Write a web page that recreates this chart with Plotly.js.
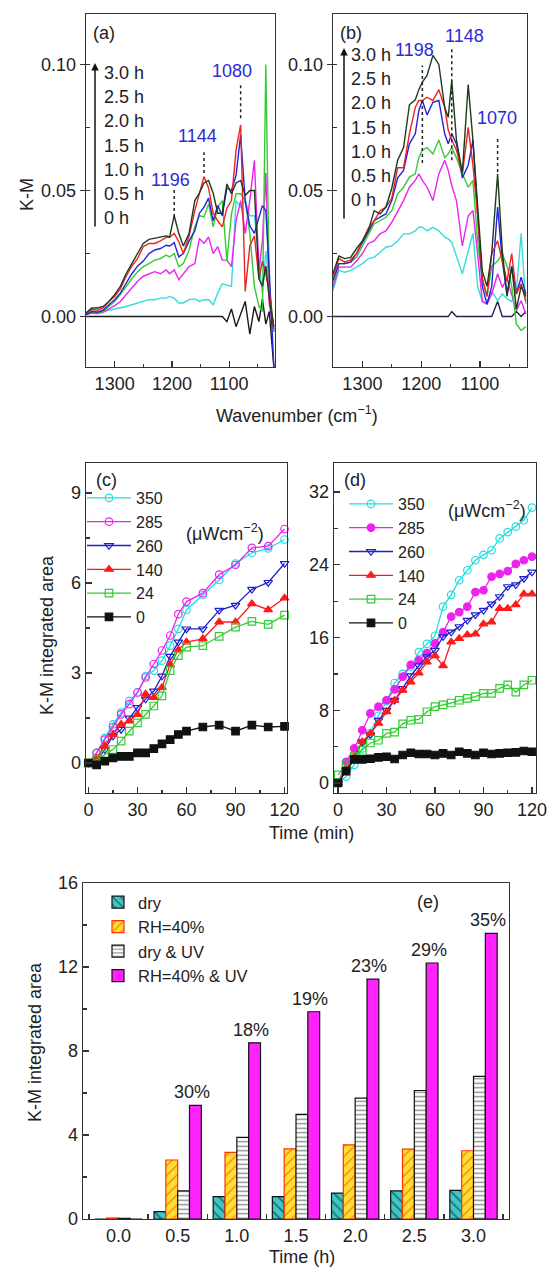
<!DOCTYPE html>
<html><head><meta charset="utf-8">
<script src="https://cdn.plot.ly/plotly-3.0.1.min.js"></script>
<style>html,body{margin:0;padding:0;background:#fff;}#chart{width:547px;height:1270px;}</style>
</head><body><div id="chart"></div>
<script>
// ---------- (a) spectra ----------
const wavenumA = [1350,1340,1330,1320,1310,1300,1290,1280,1270,1260,1250,1240,1230,1220,1210,1204,1196,1188,1180,1170,1160,1152,1144,1136,1128,1120,1112,1104,1096,1088,1080,1072,1064,1056,1048,1042,1036,1030,1022];
const a_0h  = [0,0,0,0,0,0,0,0,0,0,0,0,0,0,0,0,0,0,0,0,0,0,0,0,0,0,0,-0.0020,0.0030,-0.0040,0.0010,0.0060,-0.0070,0.0040,-0.0020,0.0070,-0.0030,0.0020,-0.0200];
const a_05h = [0.0008,0.0020,0.0017,0.0020,0.0025,0.0030,0.0034,0.0040,0.0047,0.0054,0.0060,0.0067,0.0067,0.0073,0.0073,0.0080,0.0073,0.0054,0.0054,0.0067,0.0070,0.0060,0.0067,0.0067,0.0047,0.0093,0.0130,0.0126,0.0120,0.0460,0.0434,0.0460,0.0400,0.0400,0.0220,0.0090,0.0260,0.0130,-0.0060];
const a_10h = [0.0008,0.0014,0.0012,0.0017,0.0030,0.0043,0.0060,0.0087,0.0113,0.0140,0.0160,0.0170,0.0178,0.0170,0.0185,0.0170,0.0185,0.0146,0.0170,0.0198,0.0210,0.0310,0.0290,0.0316,0.0250,0.0277,0.0224,0.0224,0.0198,0.0380,0.0460,0.0330,0.0460,0.0620,0.0180,0.0300,0.0570,0.0050,-0.0060];
const a_15h = [0.0008,0.0017,0.0014,0.0020,0.0040,0.0060,0.0087,0.0120,0.0150,0.0178,0.0198,0.0210,0.0224,0.0230,0.0244,0.0237,0.0250,0.0198,0.0210,0.0264,0.0356,0.0400,0.0395,0.0447,0.0356,0.0434,0.0460,0.0220,0.0408,0.0487,0.0487,0.0460,0.0330,0.0120,0.0040,0.0020,0.1000,0.0120,-0.0060];
const a_20h = [0.0008,0.0020,0.0017,0.0025,0.0047,0.0067,0.0093,0.0130,0.0170,0.0200,0.0220,0.0250,0.0264,0.0270,0.0283,0.0280,0.0293,0.0237,0.0250,0.0300,0.0340,0.0410,0.0434,0.0470,0.0380,0.0440,0.0400,0.0510,0.0500,0.0560,0.0720,0.0460,0.0360,0.0330,0.0390,0.0440,0.0420,0.0180,-0.0200];
const a_25h = [0.0014,0.0028,0.0025,0.0034,0.0060,0.0080,0.0110,0.0160,0.0200,0.0230,0.0277,0.0290,0.0290,0.0300,0.0314,0.0314,0.0330,0.0297,0.0250,0.0320,0.0420,0.0487,0.0555,0.0510,0.0410,0.0380,0.0356,0.0430,0.0460,0.0660,0.0760,0.0100,0.0280,0.0320,0.0150,0.0220,0.0170,0.0100,-0.0050];
const a_30h = [0.0014,0.0034,0.0034,0.0040,0.0060,0.0087,0.0120,0.0170,0.0210,0.0250,0.0290,0.0306,0.0310,0.0314,0.0320,0.0316,0.0400,0.0330,0.0280,0.0330,0.0460,0.0490,0.0530,0.0540,0.0490,0.0410,0.0410,0.0526,0.0487,0.0530,0.0540,0.0480,0.0500,0.0500,0.0150,0.0120,0.0200,0.0070,-0.0040];

// ---------- (b) spectra ----------
const wavenumB = [1350,1340,1330,1320,1310,1300,1290,1280,1270,1260,1250,1240,1230,1220,1210,1204,1198,1190,1180,1170,1160,1154,1148,1140,1130,1120,1112,1104,1096,1088,1080,1070,1062,1054,1046,1038,1030,1022];
const b_0h  = [0,0,0,0,0,0,0,0,0,0,0,0,0,0,0,0,0,0,0,0,0,0,0.0020,0,0,0,0,0,0,0,0,0.0060,0,0,0,0.0020,0,0.0020];
const b_05h = [0.0103,0.0183,0.0176,0.0183,0.0196,0.0210,0.0230,0.0235,0.0255,0.0275,0.0280,0.0300,0.0328,0.0328,0.0340,0.0354,0.0354,0.0340,0.0354,0.0340,0.0315,0.0308,0.0295,0.0240,0.0170,0.0260,0.0330,0.0120,0.0060,0.0050,0.0100,0.0063,0.0090,0.0070,0.0060,0.0100,0.0330,0.0050];
const b_10h = [0.0116,0.0196,0.0196,0.0196,0.0220,0.0250,0.0290,0.0300,0.0328,0.0340,0.0374,0.0420,0.0460,0.0513,0.0540,0.0566,0.0540,0.0513,0.0460,0.0566,0.0620,0.0580,0.0520,0.0460,0.0280,0.0400,0.0420,0.0250,0.0060,0.0050,0.0090,0.0170,0.0116,0.0150,0.0090,0.0024,0.0063,0.0010];
const b_15h = [0.0130,0.0210,0.0210,0.0216,0.0235,0.0280,0.0328,0.0368,0.0380,0.0394,0.0420,0.0487,0.0513,0.0553,0.0566,0.0630,0.0660,0.0670,0.0645,0.0700,0.0630,0.0645,0.0670,0.0630,0.0566,0.0513,0.0540,0.0300,0.0150,0.0080,0.0200,0.0220,0.0250,0.0200,0.0120,-0.0030,-0.0055,-0.0040];
const b_20h = [0.0143,0.0210,0.0210,0.0216,0.0250,0.0295,0.0340,0.0380,0.0394,0.0407,0.0460,0.0550,0.0580,0.0685,0.0725,0.0817,0.0857,0.0800,0.0850,0.0857,0.0725,0.0685,0.0725,0.0685,0.0550,0.0600,0.0700,0.0400,0.0120,0.0050,0.0120,0.0434,0.0220,0.0090,0.0196,0.0090,0.0156,0.0090];
const b_25h = [0.0156,0.0230,0.0216,0.0225,0.0250,0.0300,0.0350,0.0380,0.0420,0.0434,0.0470,0.0590,0.0590,0.0725,0.0830,0.0857,0.0857,0.0870,0.0857,0.0900,0.0830,0.0740,0.0700,0.0660,0.0566,0.0750,0.0600,0.0400,0.0150,0.0080,0.0250,0.0300,0.0220,0.0140,0.0250,0.0090,0.0130,0.0060];
const b_30h = [0.0170,0.0240,0.0230,0.0235,0.0270,0.0300,0.0340,0.0420,0.0407,0.0434,0.0510,0.0620,0.0670,0.0840,0.0860,0.0900,0.0930,0.0956,0.1036,0.1000,0.0830,0.0790,0.0936,0.0700,0.0570,0.0920,0.0700,0.0450,0.0180,0.0120,0.0250,0.0566,0.0260,0.0080,0.0200,0.0030,0.0120,0.0080];

const hourLabels = ['3.0 h','2.5 h','2.0 h','1.5 h','1.0 h','0.5 h','0 h'];
const peakA = [1196, 1144, 1080];
const peakTopA = [0.0514, 0.0652, 0.0917];
const peakBotA = [0.0395, 0.0569, 0.0787];
const peakLabelXA = [1203, 1155, 1095];
const peakLabelYA = [0.0542, 0.0715, 0.0972];
const peakB = [1198, 1148, 1070];
const peakTopB = [0.0996, 0.1067, 0.0711];
const peakBotB = [0.0609, 0.0620, 0.0573];
const peakLabelXB = [1212, 1127, 1071];
const peakLabelYB = [0.1059, 0.1111, 0.0787];

// ---------- (c) ----------
const timeC = [0,5,10,15,20,25,30,35,40,45,50,55,60,70,80,90,100,110,120];
const c350 = [0,0.34,0.84,1.29,1.68,2.07,2.35,2.9,3.08,3.41,3.91,4.47,5.1,5.6,6.1,6.65,7.0,7.15,7.45];
const c285 = [0,0.34,0.78,1.2,1.62,1.96,2.35,2.85,3.3,3.75,4.25,4.96,5.38,5.66,6.28,6.6,7.17,7.23,7.8];
const c260 = [0,0.06,0.45,0.9,1.12,1.5,1.85,2.13,2.4,2.9,3.56,4.03,4.47,4.47,5.09,5.26,5.79,6.02,6.65];
const c140 = [0,0.17,0.56,0.95,1.29,1.4,1.62,2.3,2.18,2.52,3.28,3.77,4.03,4.14,4.7,4.7,5.31,5.11,5.5];
const c24  = [0,0.11,0.28,0.45,0.73,1.06,1.34,1.62,1.9,2.24,3.08,3.58,3.86,3.91,4.22,4.53,4.72,4.62,4.93];
const c0   = [0,-0.06,0.06,0.17,0.22,0.22,0.34,0.34,0.48,0.64,0.78,0.95,1.06,1.2,1.26,1.06,1.26,1.2,1.22];

// ---------- (d) ----------
const timeD = [0,5,10,15,20,25,30,35,40,45,50,55,60,65,70,75,80,85,90,95,100,105,110,115,120];
const d350 = [0,0.7,2.0,3.8,5.5,7.4,9.0,11.0,12.0,12.8,14.4,15.3,16.2,19.4,20.7,22.3,23.4,24.5,25.1,25.6,26.9,27.6,28.2,28.9,30.3];
const d285 = [0,2.34,3.8,5.8,7.65,8.4,9.1,10.3,11.7,13.0,13.5,14.3,15.35,16.6,18.3,18.8,19.4,21.0,21.2,22.7,23.0,23.3,24.1,24.5,24.9];
const d260 = [0,1.43,2.7,4.54,5.3,6.9,8.0,9.1,10.4,11.8,12.9,13.9,14.6,16.1,16.6,17.2,17.9,18.5,19.0,19.7,20.5,21.6,21.8,22.5,23.2];
const d140 = [0,1.43,2.9,4.54,5.46,6.56,7.84,9.1,10.2,11.1,12.1,13.3,14.0,12.9,15.5,15.9,16.3,16.4,17.5,17.7,19.2,19.2,19.6,20.8,20.8];
const d24  = [0.9,2.0,2.9,3.6,4.4,4.7,5.46,5.6,6.5,6.9,7.0,7.84,8.4,8.6,8.8,9.1,9.3,9.5,9.85,9.85,10.4,10.8,10.0,10.8,11.3];
const d0   = [0,1.3,2.6,2.6,2.67,2.82,2.89,2.64,3.08,3.33,3.19,3.19,3.08,3.26,3.08,3.44,3.26,3.08,3.33,3.19,3.26,3.33,3.37,3.52,3.44];
const intensityNames = ['350','285','260','140','24','0'];

// ---------- (e) ----------
const timeE = [0, 0.5, 1.0, 1.5, 2.0, 2.5, 3.0];
const eDry    = [0, 0.35, 1.07, 1.07, 1.23, 1.34, 1.36];
const eRH     = [0.05, 2.81, 3.17, 3.34, 3.53, 3.33, 3.25];
const eDryUV  = [0.03, 1.34, 3.89, 4.98, 5.76, 6.12, 6.79];
const eRHUV   = [0, 5.41, 8.39, 9.87, 11.42, 12.19, 13.6];
const ePct    = ['', '30%', '18%', '19%', '23%', '29%', '35%'];
const eNames  = ['dry', 'RH=40%', 'dry &amp; UV', 'RH=40% &amp; UV'];

// ---------- layout helpers ----------
const W = 547, H = 1270;
const FONT = 'Liberation Sans, Arial, Helvetica, sans-serif';
const px = p => p / W;
const py = p => 1 - p / H;
const INK = '#222';

function axis(domain, range, o) {
  const base = {
    domain: domain, range: range, autorange: false,
    showline: true, mirror: true, linecolor: '#333', linewidth: 1.4,
    showgrid: false, zeroline: false,
    ticks: 'inside', ticklen: 6, tickwidth: 1.3, tickcolor: '#333',
    tickfont: {family: FONT, size: 18, color: INK}
  };
  const m = Object.assign({ticks: 'inside', ticklen: 3.5, tickwidth: 1.2, tickcolor: '#333'}, o.minor || {});
  const r = Object.assign(base, o);
  r.minor = m;
  return r;
}

const specColors = ['#1a1a1a', '#33dddd', '#ee22ee', '#33cc33', '#2323dd', '#ee2222', '#1d3b1d'];
const specA = [a_0h, a_05h, a_10h, a_15h, a_20h, a_25h, a_30h];
const specB = [b_0h, b_05h, b_10h, b_15h, b_20h, b_25h, b_30h];
const specNames = ['0 h','0.5 h','1.0 h','1.5 h','2.0 h','2.5 h','3.0 h'];

const traces = [];
specA.forEach((ys, i) => traces.push({
  type: 'scatter', mode: 'lines', x: wavenumA, y: ys, xaxis: 'x', yaxis: 'y',
  name: specNames[i], showlegend: false, line: {color: specColors[i], width: 1.4}
}));
specB.forEach((ys, i) => traces.push({
  type: 'scatter', mode: 'lines', x: wavenumB, y: ys, xaxis: 'x2', yaxis: 'y2',
  name: specNames[i], showlegend: false, line: {color: i === 0 ? '#23234f' : specColors[i], width: 1.4}
}));

const kmColors = ['#22dddd', '#ee22ee', '#1f1fcc', '#ff1a1a', '#33cc33', '#111111'];
const symC = ['circle-open', 'circle-open', 'triangle-down-open', 'triangle-up', 'square-open', 'square'];
const symD = ['circle-open', 'circle', 'triangle-down-open', 'triangle-up', 'square-open', 'square'];
[c350, c285, c260, c140, c24, c0].forEach((ys, i) => traces.push({
  type: 'scatter', mode: 'lines+markers', x: timeC, y: ys, xaxis: 'x3', yaxis: 'y3',
  name: intensityNames[i], legend: 'legend', cliponaxis: false,
  line: {color: kmColors[i], width: 1.3},
  marker: {symbol: symC[i], size: 7.5, color: kmColors[i], line: {color: kmColors[i], width: 1.2}}
}));
[d350, d285, d260, d140, d24, d0].forEach((ys, i) => traces.push({
  type: 'scatter', mode: 'lines+markers', x: timeD, y: ys, xaxis: 'x4', yaxis: 'y4',
  name: intensityNames[i], legend: 'legend2', cliponaxis: false,
  line: {color: kmColors[i], width: 1.3},
  marker: {symbol: symD[i], size: 7.5, color: kmColors[i], line: {color: kmColors[i], width: 1.2}}
}));

const barStyles = [
  {color: '#3cc8c8', line: {color: '#111', width: 1.2}, pattern: {shape: '\\', fgcolor: '#111', bgcolor: '#3cc8c8', size: 7, solidity: 0.25, fillmode: 'overlay'}},
  {color: '#ffe033', line: {color: '#ff3300', width: 1.2}, pattern: {shape: '/', fgcolor: '#ff2a00', bgcolor: '#ffe033', size: 7, solidity: 0.22, fillmode: 'overlay'}},
  {color: '#ffffff', line: {color: '#111', width: 1.2}, pattern: {shape: '-', fgcolor: '#111', bgcolor: '#ffffff', size: 4.5, solidity: 0.3, fillmode: 'overlay'}},
  {color: '#ff22ff', line: {color: '#111', width: 1.2}}
];
[eDry, eRH, eDryUV, eRHUV].forEach((ys, i) => traces.push({
  type: 'bar', x: timeE, y: ys, xaxis: 'x5', yaxis: 'y5', name: eNames[i],
  legend: 'legend3', marker: barStyles[i]
}));

// ---------- annotations ----------
const ann = [];
function txt(t, x, y, o) {
  ann.push(Object.assign({xref: 'paper', yref: 'paper', x: px(x), y: py(y), text: t, showarrow: false,
    font: {family: FONT, size: 18, color: INK}, xanchor: 'center', yanchor: 'middle'}, o || {}));
}
txt('K-M', 27, 195, {textangle: -90});
txt('Wavenumber (cm<sup>−1</sup>)', 297, 415);
txt('(a)', 104, 33); txt('(b)', 351, 33);
hourLabels.forEach((h, i) => {
  txt(h, 102, 73 + i * 24.2, {xanchor: 'left'});
  txt(h, 349, 55 + i * 24.2, {xanchor: 'left'});
});
ann.push({xref: 'paper', yref: 'paper', x: px(95), y: py(63), ax: 0, ay: 165, text: '', showarrow: true,
  arrowhead: 2, arrowsize: 1, arrowwidth: 1.5, arrowcolor: '#111'});
ann.push({xref: 'paper', yref: 'paper', x: px(344), y: py(48), ax: 0, ay: 172, text: '', showarrow: true,
  arrowhead: 2, arrowsize: 1, arrowwidth: 1.5, arrowcolor: '#111'});
const shapes = [];
peakA.forEach((p, i) => {
  ann.push({xref: 'x', yref: 'y', x: peakLabelXA[i], y: peakLabelYA[i], text: String(p), showarrow: false,
    font: {family: FONT, size: 18, color: '#2b2bd6'}});
  shapes.push({type: 'line', xref: 'x', yref: 'y', x0: p, x1: p, y0: peakBotA[i], y1: peakTopA[i],
    line: {color: '#222', width: 1.5, dash: 'dot'}});
});
peakB.forEach((p, i) => {
  ann.push({xref: 'x2', yref: 'y2', x: peakLabelXB[i], y: peakLabelYB[i], text: String(p), showarrow: false,
    font: {family: FONT, size: 18, color: '#2b2bd6'}});
  shapes.push({type: 'line', xref: 'x2', yref: 'y2', x0: p, x1: p, y0: peakBotB[i], y1: peakTopB[i],
    line: {color: '#222', width: 1.5, dash: 'dot'}});
});

txt('(c)', 106, 480); txt('(d)', 355, 480);
txt('(μWcm<sup>−2</sup>)', 225, 532);
txt('(μWcm<sup>−2</sup>)', 487, 510);
txt('K-M integrated area', 47, 635, {textangle: -90});
txt('Time (min)', 312, 833);

txt('(e)', 428, 902);
txt('K-M integrated area', 35, 1042, {textangle: -90});
txt('Time (h)', 302, 1257);
timeE.forEach((t, i) => {
  if (!ePct[i]) return;
  ann.push({xref: 'x5', yref: 'y5', x: t + 0.12, y: eRHUV[i], text: ePct[i], showarrow: false,
    yanchor: 'bottom', yshift: 1, font: {family: FONT, size: 18, color: INK}});
});

// ---------- layout ----------
const legendBase = {xanchor: 'left', yanchor: 'top', bgcolor: 'rgba(0,0,0,0)', borderwidth: 0,
  font: {family: FONT, size: 16, color: INK}, tracegroupgap: 0, itemclick: false, itemwidth: 44};

const layout = {
  width: W, height: H, autosize: false,
  margin: {l: 0, r: 0, t: 0, b: 0},
  paper_bgcolor: '#fff', plot_bgcolor: '#fff',
  font: {family: FONT, size: 17, color: INK},
  barmode: 'group', bargap: 0.2, bargroupgap: 0,
  xaxis: axis([px(86), px(275)], [1350, 1020], {anchor: 'y', tick0: 1000, dtick: 100, minor: {dtick: 50}}),
  yaxis: axis([py(367), py(14)], [-0.02, 0.12], {anchor: 'x', tick0: 0, dtick: 0.05, tickformat: '.2f', ticks: 'outside', ticklen: 5, minor: {dtick: 0.025}}),
  xaxis2: axis([px(333), px(527)], [1350, 1020], {anchor: 'y2', tick0: 1000, dtick: 100, minor: {dtick: 50}}),
  yaxis2: axis([py(367), py(14)], [-0.02, 0.12], {anchor: 'x2', tick0: 0, dtick: 0.05, tickformat: '.2f', ticks: 'outside', ticklen: 5, minor: {dtick: 0.025}}),
  xaxis3: axis([px(86), px(287)], [-1.5, 121.5], {anchor: 'y3', tick0: 0, dtick: 30, minor: {dtick: 15}}),
  yaxis3: axis([py(793), py(463)], [-1, 10], {anchor: 'x3', tick0: 0, dtick: 3, minor: {dtick: 1.5}}),
  xaxis4: axis([px(334), px(536)], [-2.5, 122.5], {anchor: 'y4', tick0: 0, dtick: 30, minor: {dtick: 15}}),
  yaxis4: axis([py(793), py(463)], [-1.1, 35.2], {anchor: 'x4', tick0: 0, dtick: 8, minor: {dtick: 4}}),
  xaxis5: axis([px(83), px(509)], [-0.3, 3.3], {anchor: 'y5', tick0: 0, dtick: 0.5, tickformat: '.1f', ticks: '', minor: {tick0: 0.25, dtick: 0.5, ticklen: 5}}),
  yaxis5: axis([py(1219), py(883)], [0, 16], {anchor: 'x5', tick0: 0, dtick: 4, minor: {dtick: 2}}),
  legend: Object.assign({}, legendBase, {x: px(82), y: py(481)}),
  legend2: Object.assign({}, legendBase, {x: px(344), y: py(487)}),
  legend3: Object.assign({}, legendBase, {x: px(98), y: py(885), itemwidth: 30, font: {family: FONT, size: 16.5, color: INK}}),
  annotations: ann,
  shapes: shapes
};

Plotly.newPlot('chart', traces, layout, {displayModeBar: false, staticPlot: true});
</script></body></html>
